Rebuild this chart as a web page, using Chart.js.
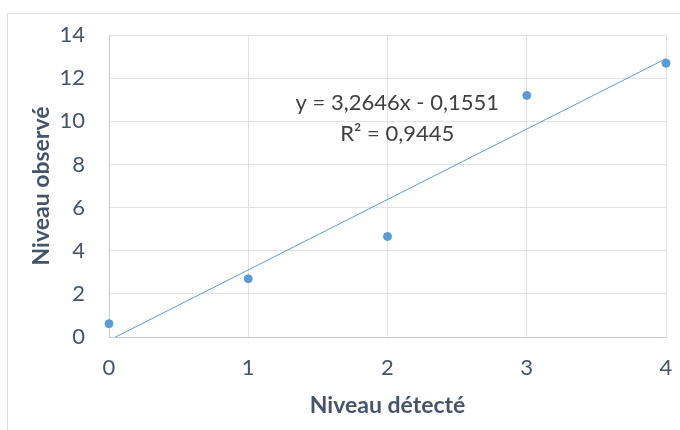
<!DOCTYPE html>
<html lang="fr">
<head>
    <meta charset="UTF-8">
    <title>Niveau observé vs détecté</title>
    <script src="https://cdn.jsdelivr.net/npm/chart.js"></script>
    <style>
        body { margin: 0; background: #fff; }
        #box { position: absolute; left: 7px; top: 13px; width: 690px; height: 440px; border: 1px solid #dcdfe4; }
        #myChart { position: absolute; left: 0; top: 0; }
    </style>
</head>
<body>
<div id="box"></div>
<canvas id="myChart" width="680" height="430"></canvas>
<script>
    // données
    const detecte = [0, 1, 2, 3, 4];
    const observe = [0.62, 2.7, 4.66, 11.2, 12.69];

    // courbe de tendance (linéaire)
    const pente = 3.2646;
    const origine = -0.1551;
    const equation = ['y = 3,2646x - 0,1551', 'R² = 0,9445'];

    const yTicks = [0, 2, 4, 6, 8, 10, 12, 14];

    const police = 'Lato, "Open Sans", sans-serif';
    const couleurTexte = '#44546a';

    const points = detecte.map((x, i) => ({x: x, y: observe[i]}));
    const tendance = [0, 4].map(x => ({x: x, y: pente * x + origine}));

    const equationPlugin = {
        id: 'equation',
        afterDatasetsDraw(chart) {
            const ctx = chart.ctx;
            const xs = chart.scales.x, ys = chart.scales.y;
            ctx.save();
            ctx.font = '22px ' + police;
            ctx.fillStyle = '#404040';
            ctx.textAlign = 'center';
            ctx.textBaseline = 'middle';
            ctx.fillText(equation[0], xs.getPixelForValue(2.07), ys.getPixelForValue(10.85));
            ctx.fillText(equation[1], xs.getPixelForValue(2.07), ys.getPixelForValue(9.41));
            ctx.restore();
        }
    };

    new Chart(document.getElementById('myChart'), {
        type: 'scatter',
        data: {
            datasets: [{
                label: 'Niveau observé',
                data: points,
                backgroundColor: '#5b9bd5',
                borderColor: '#5b9bd5',
                pointRadius: 4,
                clip: false
            }, {
                label: 'Linéaire',
                type: 'line',
                data: tendance,
                borderColor: '#5b9bd5',
                borderWidth: 1,
                pointRadius: 0,
                fill: false
            }]
        },
        options: {
            responsive: false,
            animation: false,
            layout: { padding: { top: 35, right: 14 } },
            plugins: {
                legend: { display: false },
                tooltip: { enabled: false }
            },
            scales: {
                x: {
                    type: 'linear',
                    min: 0,
                    max: 4,
                    afterFit: s => { s.height = 93; s.paddingLeft = 0; s.paddingRight = 0; },
                    ticks: { stepSize: 1, padding: 18, color: couleurTexte, font: { family: police, size: 22 } },
                    grid: { color: '#dfe3e8', drawTicks: false },
                    border: { color: '#c4cad3' },
                    title: { display: true, text: 'Niveau détecté', color: couleurTexte,
                        font: { family: police, size: 23, weight: 'bold' }, padding: { bottom: 11 } }
                },
                y: {
                    min: 0,
                    max: 14,
                    afterFit: s => { s.width = 109; s.paddingTop = 0; s.paddingBottom = 0; },
                    afterBuildTicks: s => { s.ticks = yTicks.map(v => ({value: v})); },
                    ticks: { padding: 24, color: couleurTexte, font: { family: police, size: 22 } },
                    grid: { color: '#dfe3e8', drawTicks: false },
                    border: { color: '#c4cad3' },
                    title: { display: true, text: 'Niveau observé', color: couleurTexte,
                        font: { family: police, size: 23, weight: 'bold' }, padding: { top: 28 } }
                }
            }
        },
        plugins: [equationPlugin]
    });
</script>
</body>
</html>
